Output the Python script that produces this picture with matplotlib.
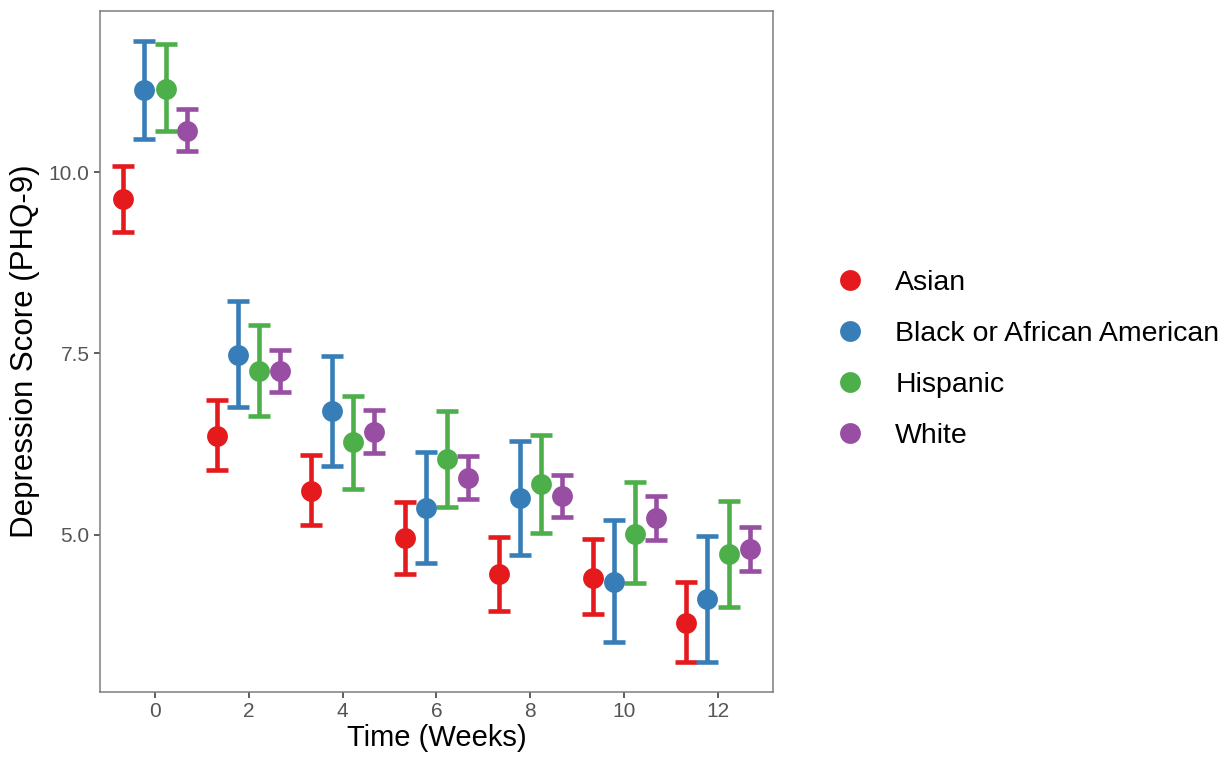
import numpy as np
import matplotlib.pyplot as plt

plt.rcParams['font.family'] = ['Liberation Sans', 'DejaVu Sans']

# Mean PHQ-9 score with 95% CI by group and week
weeks = [0, 2, 4, 6, 8, 10, 12]
groups = ['Asian', 'Black or African American', 'Hispanic', 'White']
colors = ['#E41A1C', '#377EB8', '#4DAF4A', '#984EA3']

mean_asian = [9.63, 6.36, 5.61, 4.96, 4.46, 4.41, 3.79]
low_asian = [9.17, 5.90, 5.14, 4.46, 3.95, 3.91, 3.25]
high_asian = [10.08, 6.86, 6.10, 5.45, 4.97, 4.95, 4.35]

mean_black = [11.13, 7.48, 6.71, 5.37, 5.51, 4.35, 4.12]
low_black = [10.45, 6.76, 5.95, 4.61, 4.72, 3.53, 3.25]
high_black = [11.80, 8.22, 7.47, 6.14, 6.29, 5.21, 4.99]

mean_hisp = [11.14, 7.26, 6.28, 6.05, 5.70, 5.01, 4.74]
low_hisp = [10.56, 6.64, 5.63, 5.39, 5.03, 4.34, 4.01]
high_hisp = [11.76, 7.89, 6.91, 6.71, 6.38, 5.73, 5.47]

mean_white = [10.56, 7.26, 6.42, 5.79, 5.54, 5.23, 4.81]
low_white = [10.29, 6.97, 6.13, 5.50, 5.25, 4.93, 4.50]
high_white = [10.87, 7.55, 6.72, 6.09, 5.83, 5.54, 5.11]

means = [mean_asian, mean_black, mean_hisp, mean_white]
lows = [low_asian, low_black, low_hisp, low_white]
highs = [high_asian, high_black, high_hisp, high_white]
offsets = [-0.675, -0.225, 0.225, 0.675]

fig = plt.figure(figsize=(12.32, 7.6), dpi=100)
ax = fig.add_axes([0.0812, 0.0895, 0.5462, 0.896])

for g, c, m, lo, hi, off in zip(groups, colors, means, lows, highs, offsets):
    x = np.array(weeks) + off
    m = np.array(m)
    yerr = [m - np.array(lo), np.array(hi) - m]
    ax.errorbar(x, m, yerr=yerr, fmt='none', ecolor=c, elinewidth=3.3,
                capsize=8, capthick=3.3, zorder=2)
    ax.plot(x, m, 'o', color=c, markersize=15, label=g, zorder=3,
            markeredgewidth=0)

ax.set_xlim(-1.17, 13.17)
ax.set_ylim(2.837, 12.218)
ax.set_xticks(weeks)
ax.set_yticks([5.0, 7.5, 10.0])
ax.set_yticklabels(['5.0', '7.5', '10.0'])
ax.tick_params(axis='both', colors='#333333', labelcolor='#555555',
               labelsize=15, length=4, width=1.1)
for s in ax.spines.values():
    s.set_color('#7F7F7F')
    s.set_linewidth(1.1)

ax.set_xlabel('Time (Weeks)', fontsize=21, labelpad=2)
ax.set_ylabel('Depression Score (PHQ-9)', fontsize=22.5, labelpad=6)

leg = fig.legend(loc='center left', bbox_to_anchor=(0.655, 0.527), frameon=False,
                 fontsize=20.5, markerscale=1.0, handletextpad=1.0,
                 labelspacing=0.88, handlelength=1.2)

fig.savefig('out.png', dpi=100)
